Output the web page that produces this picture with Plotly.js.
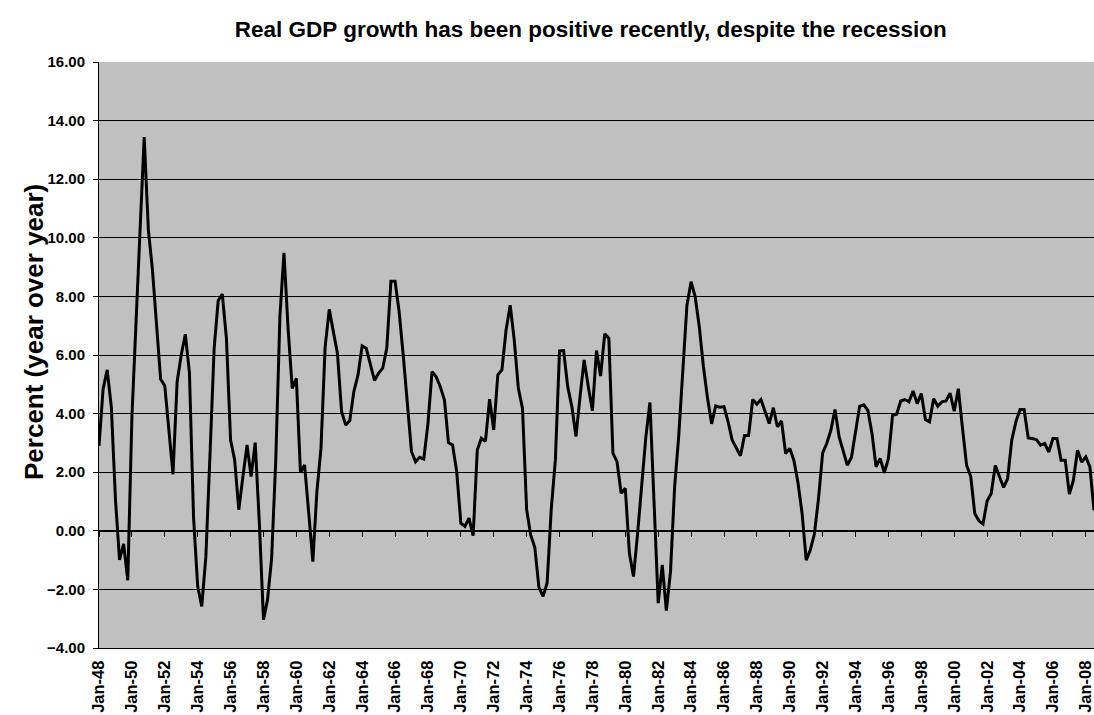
<!DOCTYPE html>
<html>
<head>
<meta charset="utf-8">
<script src="https://cdn.plot.ly/plotly-3.0.1.min.js"></script>
<style>html,body{margin:0;padding:0;background:#fff;}#chart{width:1094px;height:715px;}</style>
</head>
<body>
<div id="chart"></div>
<script>
// Years covered (quarterly data, Q1..Q4 per year), 1948Q1 .. 2008Q3
const startYear = 1948;
const quarterMonths = ["01", "04", "07", "10"];

// Real GDP growth, percent year over year, by year (quarters in order)
const g1948 = [2.90, 4.84, 5.49, 4.22];
const g1949 = [1.06, -0.99, -0.45, -1.69];
const g1950 = [3.89, 7.30, 10.27, 13.44];
const g1951 = [10.28, 8.92, 6.90, 5.17];
const g1952 = [4.95, 3.34, 1.93, 5.08];
const g1953 = [6.01, 6.71, 5.40, 0.46];
const g1954 = [-1.90, -2.58, -0.89, 2.60];
const g1955 = [6.23, 7.85, 8.08, 6.57];
const g1956 = [3.10, 2.42, 0.72, 1.85];
const g1957 = [2.93, 1.85, 3.01, 0.26];
const g1958 = [-3.03, -2.35, -0.93, 2.42];
const g1959 = [7.33, 9.49, 6.91, 4.86];
const g1960 = [5.20, 1.99, 2.25, 0.62];
const g1961 = [-1.05, 1.34, 2.82, 6.28];
const g1962 = [7.56, 6.80, 6.06, 4.07];
const g1963 = [3.61, 3.76, 4.75, 5.32];
const g1964 = [6.31, 6.23, 5.72, 5.13];
const g1965 = [5.38, 5.55, 6.23, 8.52];
const g1966 = [8.52, 7.48, 6.00, 4.47];
const g1967 = [2.70, 2.36, 2.51, 2.45];
const g1968 = [3.65, 5.43, 5.26, 4.92];
const g1969 = [4.47, 3.01, 2.93, 2.02];
const g1970 = [0.26, 0.15, 0.43, -0.17];
const g1971 = [2.76, 3.16, 3.05, 4.49];
const g1972 = [3.44, 5.32, 5.49, 6.85];
const g1973 = [7.70, 6.51, 4.86, 4.18];
const g1974 = [0.72, -0.14, -0.56, -1.93];
const g1975 = [-2.24, -1.78, 0.72, 2.42];
const g1976 = [6.14, 6.15, 4.92, 4.24];
const g1977 = [3.22, 4.58, 5.83, 4.92];
const g1978 = [4.10, 6.15, 5.28, 6.72];
const g1979 = [6.57, 2.65, 2.36, 1.28];
const g1980 = [1.45, -0.76, -1.56, -0.08];
const g1981 = [1.65, 3.20, 4.38, 1.00];
const g1982 = [-2.47, -1.16, -2.72, -1.39];
const g1983 = [1.51, 3.22, 5.66, 7.70];
const g1984 = [8.50, 7.99, 6.97, 5.60];
const g1985 = [4.52, 3.65, 4.26, 4.22];
const g1986 = [4.24, 3.73, 3.10, 2.82];
const g1987 = [2.56, 3.25, 3.25, 4.48];
const g1988 = [4.32, 4.48, 4.06, 3.66];
const g1989 = [4.20, 3.55, 3.75, 2.64];
const g1990 = [2.81, 2.41, 1.65, 0.60];
const g1991 = [-1.00, -0.66, -0.11, 1.10];
const g1992 = [2.66, 2.98, 3.43, 4.14];
const g1993 = [3.20, 2.75, 2.24, 2.50];
const g1994 = [3.43, 4.25, 4.30, 4.11];
const g1995 = [3.32, 2.18, 2.47, 1.98];
const g1996 = [2.47, 3.94, 3.98, 4.43];
const g1997 = [4.48, 4.40, 4.77, 4.34];
const g1998 = [4.68, 3.80, 3.72, 4.51];
const g1999 = [4.25, 4.40, 4.43, 4.70];
const g2000 = [4.08, 4.85, 3.52, 2.24];
const g2001 = [1.86, 0.59, 0.34, 0.23];
const g2002 = [1.02, 1.27, 2.23, 1.82];
const g2003 = [1.48, 1.78, 3.09, 3.72];
const g2004 = [4.14, 4.14, 3.17, 3.15];
const g2005 = [3.11, 2.92, 2.98, 2.69];
const g2006 = [3.15, 3.15, 2.41, 2.41];
const g2007 = [1.25, 1.73, 2.75, 2.35];
const g2008 = [2.52, 2.18, 0.70];

const byYear = [g1948,g1949,g1950,g1951,g1952,g1953,g1954,g1955,g1956,g1957,
  g1958,g1959,g1960,g1961,g1962,g1963,g1964,g1965,g1966,g1967,
  g1968,g1969,g1970,g1971,g1972,g1973,g1974,g1975,g1976,g1977,
  g1978,g1979,g1980,g1981,g1982,g1983,g1984,g1985,g1986,g1987,
  g1988,g1989,g1990,g1991,g1992,g1993,g1994,g1995,g1996,g1997,
  g1998,g1999,g2000,g2001,g2002,g2003,g2004,g2005,g2006,g2007,g2008];

const dates = [], values = [];
byYear.forEach((arr, i) => {
  arr.forEach((v, q) => {
    dates.push((startYear + i) + "-" + quarterMonths[q] + "-01");
    values.push(v);
  });
});

const titleText = "Real GDP growth has been positive recently, despite the recession";
const yTitle = "Percent (year over year)";

const fontFam = "Liberation Sans, Arial, Helvetica, sans-serif";

const traces = [
  {
    x: dates, y: values, type: "scatter", mode: "lines",
    line: {color: "#000000", width: 3},
    xaxis: "x", yaxis: "y", hoverinfo: "x+y"
  },
  {
    x: dates, y: values, type: "scatter", mode: "lines",
    line: {color: "rgba(0,0,0,0)", width: 0},
    xaxis: "x2", yaxis: "y", hoverinfo: "skip", showlegend: false
  }
];

const xRange = ["1948-01-01", "2008-07-01"];

const layout = {
  width: 1094, height: 715,
  margin: {l: 99, r: 0, t: 62, b: 67, pad: 0},
  paper_bgcolor: "#ffffff",
  plot_bgcolor: "#c0c0c0",
  showlegend: false,
  font: {family: fontFam, color: "#000000"},
  title: {
    text: titleText,
    font: {family: fontFam, size: 22.5, weight: "bold", color: "#000"},
    x: 0.54, xref: "container", xanchor: "center",
    y: 1 - 29.5/715, yref: "container", yanchor: "middle"
  },
  xaxis: {
    type: "date",
    range: xRange,
    tick0: "1948-01-01", dtick: "M24", tickformat: "%b-%y",
    tickangle: -90,
    tickfont: {family: fontFam, size: 16.5, weight: "bold", color: "#000"},
    ticklabelstandoff: 5,
    ticklabeloverflow: "allow",
    showgrid: false, zeroline: false,
    showline: true, linecolor: "#000000", linewidth: 1,
    ticks: "", anchor: "y"
  },
  xaxis2: {
    type: "date",
    range: xRange, overlaying: "x", anchor: "free", position: 0.2,
    tick0: "1948-01-01", dtick: "M24",
    showticklabels: false, showgrid: false, zeroline: false,
    showline: true, linecolor: "#000000", linewidth: 1,
    ticks: "outside", ticklen: 5, tickcolor: "#000000", tickwidth: 1
  },
  yaxis: {
    range: [-4, 16], dtick: 2, tick0: 0, tickformat: ".2f",
    tickfont: {family: fontFam, size: 15, weight: "bold", color: "#000"},
    ticklabelstandoff: 5,
    showgrid: true, gridcolor: "#000000", gridwidth: 1,
    zeroline: false,
    showline: true, linecolor: "#000000", linewidth: 1,
    ticks: "outside", ticklen: 5, tickcolor: "#000000"
  },
  annotations: [
    {
      text: yTitle, textangle: -90, showarrow: false,
      xref: "paper", yref: "paper",
      x: (51 - 99) / 995, y: (648 - 332) / 586, xanchor: "right", yanchor: "middle",
      font: {family: fontFam, size: 26, weight: "bold", color: "#000"}
    }
  ]
};

Plotly.newPlot("chart", traces, layout, {staticPlot: true, displayModeBar: false});
</script>
</body>
</html>
